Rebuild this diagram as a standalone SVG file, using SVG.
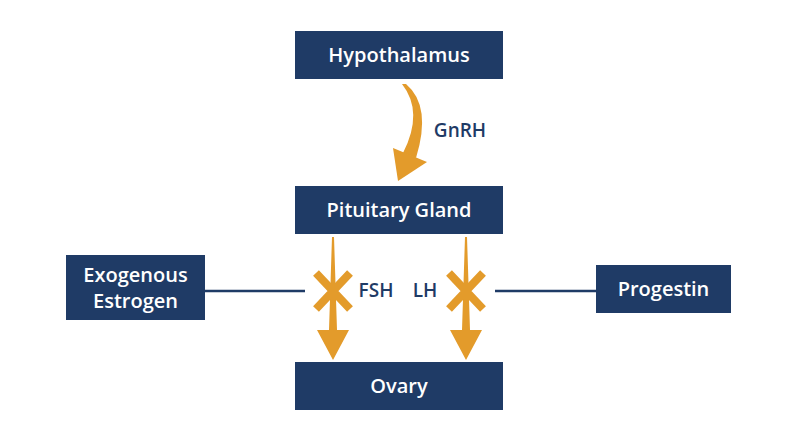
<svg xmlns="http://www.w3.org/2000/svg" width="800" height="447" viewBox="0 0 800 447">
<style>
.box{fill:#1f3b66}
.bt{fill:#fff;font-family:"Open Sans",sans-serif;font-size:20px;font-weight:600;text-anchor:middle}
.lb{fill:#1f3b66;font-family:"Open Sans",sans-serif;font-size:19px;font-weight:600;text-anchor:middle}
.or{fill:#e39b2b}
.x{stroke:#e39b2b;stroke-width:8;fill:none}
.ln{stroke:#1f3b66;stroke-width:2.5}
</style>
<rect width="800" height="447" fill="#fff"/>
<g id="hypothalamus"><rect class="box" x="295" y="31" width="208" height="48"/><text class="bt" x="399" y="62">Hypothalamus</text></g>
<g id="pituitary"><rect class="box" x="295" y="186" width="208" height="48"/><text class="bt" x="399" y="217">Pituitary Gland</text></g>
<g id="ovary"><rect class="box" x="295" y="362" width="208" height="48"/><text class="bt" x="399" y="393">Ovary</text></g>
<g id="estrogen"><rect class="box" x="66" y="255" width="139" height="65"/><text class="bt" x="135.5" y="282">Exogenous</text><text class="bt" x="135.5" y="308">Estrogen</text></g>
<g id="progestin"><rect class="box" x="596" y="265" width="135" height="48"/><text class="bt" x="663.5" y="296">Progestin</text></g>
<g id="connectors">
<line class="ln" x1="205" y1="291" x2="305" y2="291"/>
<line class="ln" x1="495" y1="291" x2="596" y2="291"/>
<path class="or" d="M402,84 Q424,112 403,153 L416,158 Q432,106 406,84 Z"/>
<polygon class="or" points="393,148 427,162 398,181"/>
<polygon class="or" points="332,237 334,237 337,330 349,330 333,360 317,330 329,330"/>
<polygon class="or" points="465,237 467,237 470,330 482,330 466,360 450,330 462,330"/>
<path class="x" d="M316,273 L350,309 M350,273 L316,309"/>
<path class="x" d="M449,273 L483,309 M483,273 L449,309"/>
<text class="lb" x="460" y="137">GnRH</text>
<text class="lb" x="376" y="297">FSH</text>
<text class="lb" x="425" y="297">LH</text>
</g>
</svg>
